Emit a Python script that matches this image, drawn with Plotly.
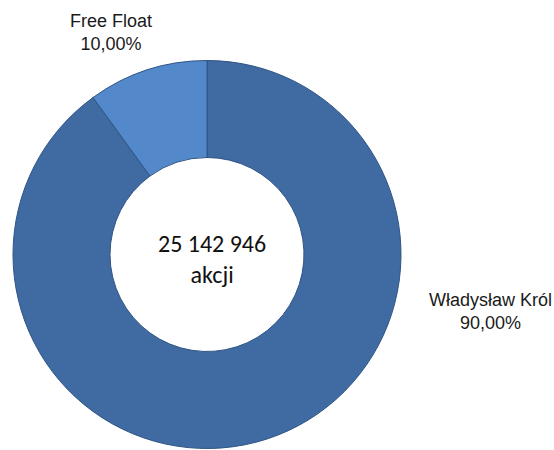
import plotly.graph_objects as go

# shareholders (slice order: clockwise from 12 o'clock)
labels = ["Władysław Król", "Free Float"]
shares = [90.0, 10.0]
pct_text = ["90,00%", "10,00%"]
total_text = "25 142 946"
unit_text = "akcji"

colors = ["#3f6ba2", "#5389ca"]

W, H = 554, 450
cx, cy, r = 207, 254.5, 194   # pie centre / radius in pixels

fig = go.Figure()
fig.add_trace(go.Pie(
    labels=labels,
    values=shares,
    hole=0.5,
    sort=False,
    direction="clockwise",
    rotation=0,
    textinfo="none",
    hoverinfo="label+percent",
    marker=dict(colors=colors, line=dict(color="#2f5485", width=1)),
    domain=dict(x=[(cx - r) / W, (cx + r) / W],
                y=[(H - cy - r) / H, (H - cy + r) / H]),
    showlegend=False,
))

lab_font = dict(family="Liberation Sans, Arial", size=18, color="#1a1a1a")
ctr_font = dict(family="Carlito, Calibri, Lato", size=24, color="#111111")

def px(x, y):
    return x / W, 1 - y / H

notes = [
    (labels[1] + "<br>" + pct_text[1], 111, 32, lab_font),
    (labels[0] + "<br>" + pct_text[0], 490, 311, lab_font),
    (total_text + "<br>" + unit_text, 212, 259, ctr_font),
]
for txt, x, y, f in notes:
    ax, ay = px(x, y)
    fig.add_annotation(text=txt, x=ax, y=ay, xref="paper", yref="paper",
                       showarrow=False, font=f, align="center",
                       xanchor="center", yanchor="middle")

fig.update_layout(width=W, height=H, margin=dict(l=0, r=0, t=0, b=0),
                  paper_bgcolor="white", plot_bgcolor="white")

# drop the browser's default 8px body margin so the figure sits at 0,0
fig.write_html("out.html", config={"displayModeBar": False},
               post_script="document.body.style.margin='0';")
